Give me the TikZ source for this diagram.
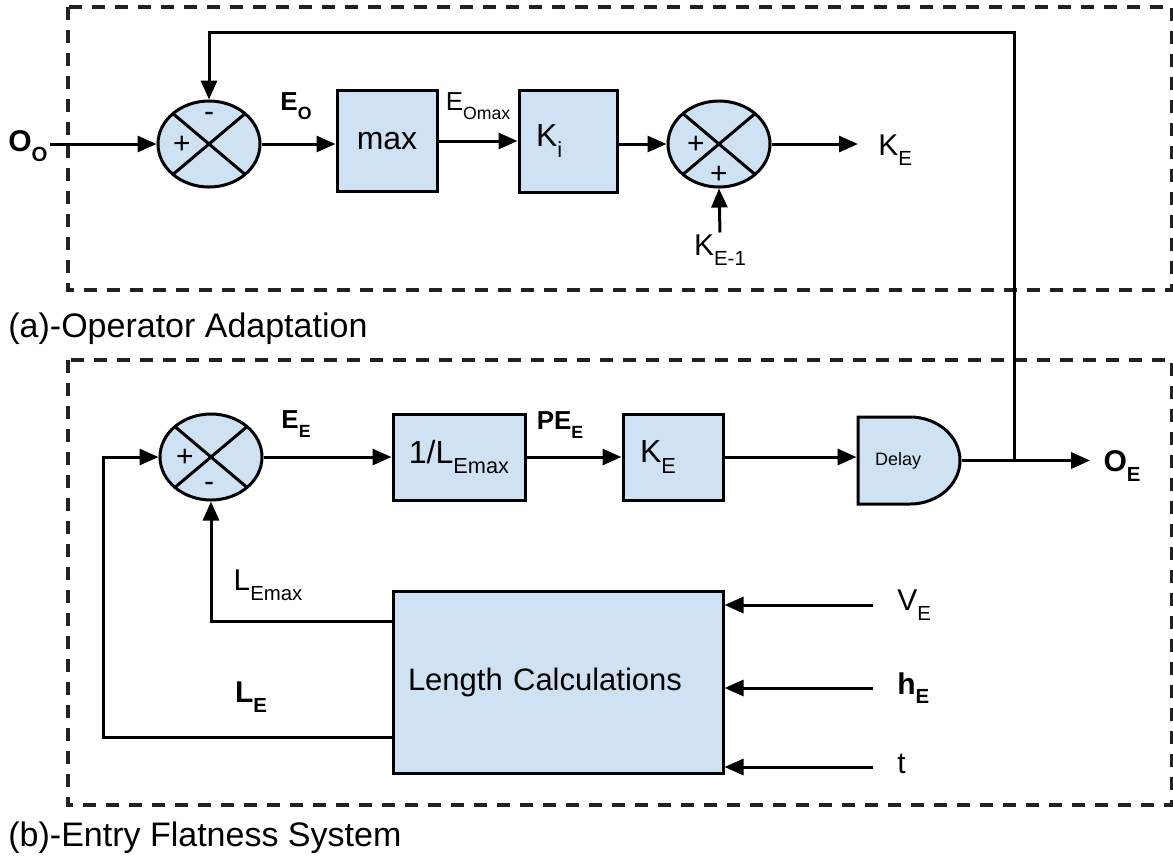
\documentclass[tikz,border=0pt]{standalone}
\usepackage{fontspec}
\setmainfont{Liberation Sans}
\usepackage{graphicx}
\usepackage{xcolor}
\usepackage{tikz}
\usetikzlibrary{positioning, arrows.meta, shapes.geometric}

\definecolor{blockblue}{HTML}{CFE2F3}
\definecolor{framegray}{HTML}{222222}

\newcommand{\lowsub}[1]{\raisebox{-0.32em}{\scalebox{0.68}{#1}}}

\begin{document}
\begin{tikzpicture}[
    x=0.5pt, y=-0.5pt,
    block/.style={
        rectangle,
        draw,
        fill=blockblue,
        line width=1.5pt,
        align=center,
        font=\fontsize{16}{19}\selectfont
    },
    blockl/.style={
        block,
        align=left,
        inner xsep=8.5pt,
        text width=#1
    },
    sumjunc/.style={
        ellipse,
        draw,
        fill=blockblue,
        line width=1.5pt,
        minimum width=51pt,
        minimum height=43pt,
        inner sep=0pt,
        path picture={
            \draw[line width=1.5pt]
              (path picture bounding box.north west) -- (path picture bounding box.south east)
              (path picture bounding box.north east) -- (path picture bounding box.south west);
        }
    },
    sign/.style={inner sep=0pt, font=\fontsize{15}{17}\selectfont},
    sig/.style={inner sep=1pt, font=\fontsize{15}{18}\selectfont},
    edgelbl/.style={inner sep=1pt, font=\fontsize{13}{16}\selectfont\bfseries},
    wire/.style={line width=1.5pt},
    arrow/.style={
        line width=1.5pt,
        -{Triangle[length=9.5pt, width=8pt]}
    },
    frame/.style={draw=framegray, line width=1.6pt, dash pattern=on 6.5pt off 5pt},
    caption/.style={anchor=west, inner sep=0pt, font=\fontsize{17}{20}\selectfont}
]
\useasboundingbox (0,0) rectangle (1173,859);

% Frames
\draw[frame] (68,7) rectangle (1172,290);
\draw[frame] (68,360) rectangle (1172,805);
\node[caption] (capa) at (8,329) {(a)-Operator Adaptation};
\node[caption] (capb) at (8,838) {(b)-Entry Flatness System};

% (a) Operator adaptation
\node[sumjunc] (s1) at (209,144) {};
\node[sign] (s1p) at (182,145) {+};
\node[sign] (s1m) at (209,117) {-};
\node[block, minimum width=50pt, minimum height=50.5pt] (maxb) at (387,141) {max};
\node[blockl=32pt, minimum height=51pt] (ki) at (568,141) {K\lowsub{i}};
\node[sumjunc] (s2) at (719,144) {};
\node[sign] (s2p) at (696,145) {+};
\node[sign] (s2q) at (719,175) {+};

\node[sig] (oo) at (28,146) {\textbf{O\lowsub{O}}};
\node[edgelbl] (eo) at (296,106) {E\lowsub{O}};
\node[sig, font=\fontsize{13}{16}\selectfont] (eomax) at (478,106) {E\lowsub{Omax}};
\node[sig, anchor=west] (ko) at (876,150) {K\lowsub{E}};
\node[sig] (kprev) at (720,250) {K\lowsub{E-1}};

\draw[arrow] (oo.east |- s1.west) -- (s1.west);
\draw[arrow] (s1.east) -- (s1.east -| maxb.west);
\draw[arrow] (maxb.east) -- (ki.west);
\draw[arrow] (ki.east |- s2.west) -- (s2.west);
\draw[arrow, shorten >=9pt] (s2.east) -- (s2.east -| ko.west);
\draw[arrow] (kprev.north) -- (s2.south);

% (b) Entry flatness system
\node[sumjunc] (s3) at (211,457) {};
\node[sign] (s3p) at (185,458) {+};
\node[sign] (s3m) at (209,487) {-};
\node[block, minimum width=66pt, minimum height=43pt] (inv) at (459,457) {1/L\lowsub{Emax}};
\node[blockl=33pt, minimum height=43pt] (keb) at (673,457) {K\lowsub{E}};
\draw[wire, fill=blockblue] (858,417) -- (910,417)
    arc[start angle=90, end angle=-90, x radius=25pt, y radius=21.75pt] -- (858,504) -- cycle;
\node[blockl=34pt, draw=none, fill=none, minimum height=43.5pt,
      font=\fontsize{9}{11}\selectfont] (delay) at (909,460.5) {Delay};
\node[blockl=150pt, inner xsep=7.5pt, minimum height=91pt,
      font=\fontsize{15.5}{18}\selectfont] (lc) at (558,682) {Length Calculations};

\node[edgelbl] (ee) at (296,424) {E\lowsub{E}};
\node[edgelbl] (pee) at (560,425) {PE\lowsub{E}};
\node[sig] (oe) at (1122,466) {\textbf{O\lowsub{E}}};
\node[sig] (lemax) at (268,585) {L\lowsub{Emax}};
\node[sig] (le) at (251,697) {\textbf{L\lowsub{E}}};
\node[sig, anchor=west] (ve) at (895,605) {V\lowsub{E}};
\node[sig, anchor=west] (he) at (895,688) {\textbf{h\lowsub{E}}};
\node[sig, anchor=west] (tin) at (895,764) {t};

\coordinate (split) at ([xshift=26.5pt]delay.east);
\coordinate (lecorner) at (103,457);

\draw[arrow] (s3.east) -- (inv.west);
\draw[arrow] (inv.east) -- (keb.west);
\draw[arrow] (keb.east) -- (keb.east -| delay.west);
\draw[arrow, shorten >=5.5pt] (delay.east) -- (delay.east -| oe.west);
\draw[arrow] (split) -- (split |- 0,32) -| (s1.north);

\draw[arrow] ([yshift=-16pt]lc.north west) -| (s3.south);
\draw[arrow] ([yshift=18.5pt]lc.south west) -| (lecorner) -- (s3.west);

\draw[arrow, shorten <=11pt] (ve.west) -- (ve.west -| lc.east);
\draw[arrow, shorten <=11pt] (he.west) -- (he.west -| lc.east);
\draw[arrow, shorten <=11pt] (tin.west |- 0,767) -- (lc.east |- 0,767);

\end{tikzpicture}
\end{document}
